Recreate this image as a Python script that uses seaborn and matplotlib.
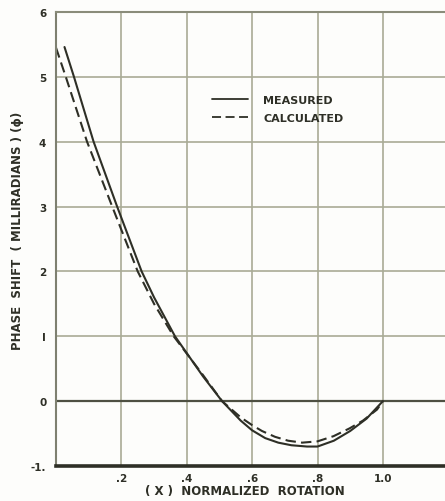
import matplotlib
matplotlib.use("Agg")
import matplotlib.pyplot as plt
import seaborn as sns
import pandas as pd
from matplotlib.lines import Line2D

# Data
measured_x = [0.026, 0.055, 0.115, 0.187, 0.262, 0.30, 0.364, 0.45, 0.508, 0.565, 0.60, 0.64, 0.68, 0.72, 0.768, 0.80, 0.85, 0.90, 0.95, 1.00]
measured_y = [5.46, 5.00, 4.00, 3.00, 2.00, 1.60, 1.00, 0.38, 0.00, -0.30, -0.45, -0.57, -0.64, -0.68, -0.70, -0.70, -0.61, -0.46, -0.27, 0.00]
calc_x = [0.00, 0.030, 0.095, 0.172, 0.250, 0.30, 0.360, 0.45, 0.508, 0.565, 0.60, 0.63, 0.67, 0.71, 0.753, 0.80, 0.849, 0.898, 0.939, 0.982, 1.00]
calc_y = [5.45, 5.00, 4.00, 3.00, 2.00, 1.50, 1.00, 0.40, 0.00, -0.25, -0.37, -0.46, -0.55, -0.61, -0.64, -0.62, -0.54, -0.42, -0.30, -0.13, 0.00]

x_ticks = [0.2, 0.4, 0.6, 0.8, 1.0]
x_tick_labels = [".2", ".4", ".6", ".8", "1.0"]
y_ticks = [-1, 0, 1, 2, 3, 4, 5, 6]
y_tick_labels = ["-1.", "0", "I", "2", "3", "4", "5", "6"]
series_names = ["MEASURED", "CALCULATED"]

df = pd.concat([
    pd.DataFrame({"x": measured_x, "y": measured_y, "series": series_names[0]}),
    pd.DataFrame({"x": calc_x, "y": calc_y, "series": series_names[1]}),
], ignore_index=True)

sns.set_style("white")
plt.rcParams["font.family"] = ["DejaVu Sans"]

ink = "#2e2f26"
grid_c = "#a9ab96"
bg = "#fdfdfb"

fig = plt.figure(figsize=(4.45, 5.02), dpi=100, facecolor=bg)
ax = fig.add_axes([56 / 445, 35 / 502, (445 - 56) / 445, (467 - 13) / 502])
ax.set_facecolor(bg)

sns.lineplot(data=df, x="x", y="y", style="series", sort=False, estimator=None,
             dashes={series_names[0]: "", series_names[1]: (5, 2.5)},
             color=ink, linewidth=1.5, ax=ax, legend=False)

ax.set_xlim(0, 1.19)
ax.set_ylim(-1, 6)
ax.set_xticks(x_ticks)
ax.set_xticklabels(x_tick_labels, fontsize=7.5, fontweight="bold", color=ink)
ax.set_yticks(y_ticks)
ax.set_yticklabels(y_tick_labels, fontsize=7.5, fontweight="bold", color=ink)
ax.tick_params(axis="y", length=0, pad=7)
ax.tick_params(axis="x", length=0, pad=5)

for xv in x_ticks:
    ax.axvline(xv, color=grid_c, lw=1.2, zorder=0)
for yv in range(1, 6):
    ax.axhline(yv, color=grid_c, lw=1.2, zorder=0)
ax.axhline(0, color="#4e5042", lw=1.6, zorder=1)

ax.spines["right"].set_visible(False)
ax.spines["top"].set_color("#8a8c7a")
ax.spines["top"].set_linewidth(1.5)
ax.spines["left"].set_color("#7e8070")
ax.spines["left"].set_linewidth(1.5)
ax.spines["bottom"].set_color(ink)
ax.spines["bottom"].set_linewidth(2.6)

ax.set_xlabel("( X )  NORMALIZED  ROTATION", fontsize=8.5, fontweight="bold", color=ink)
ax.xaxis.set_label_coords(0.486, -0.04)
ax.set_ylabel("PHASE  SHIFT  ( MILLIRADIANS ) (ϕ)", fontsize=8.5, fontweight="bold", color=ink)
ax.yaxis.set_label_coords(-0.083, 0.52)

handles = [Line2D([], [], color=ink, lw=1.3, ls="-"),
           Line2D([], [], color=ink, lw=1.3, ls=(0, (5, 2.5)))]
ax.legend(handles, series_names, loc="upper left",
          bbox_to_anchor=(0.388, 0.830), frameon=False, borderpad=0,
          handlelength=3.2, handletextpad=1.35, labelspacing=0.7,
          prop={"size": 8, "weight": "bold"}, labelcolor=ink)

fig.savefig("out.png", dpi=100, facecolor=fig.get_facecolor())
